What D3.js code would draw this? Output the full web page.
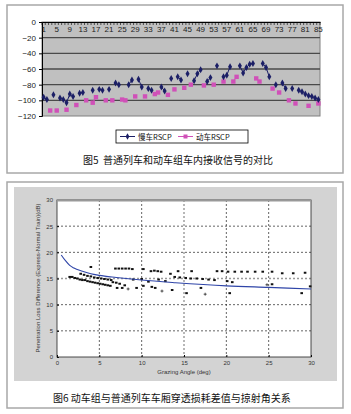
<!DOCTYPE html>
<html>
<head>
<meta charset="utf-8">
<script src="https://cdn.jsdelivr.net/npm/d3@7"></script>
<style>
  html, body { margin: 0; padding: 0; background: #fff; }
  svg { display: block; }
  text { font-family: Arial, "Liberation Sans", sans-serif; }
  .cjk { font-family: "Noto Sans CJK SC", sans-serif; }
</style>
</head>
<body>
<svg id="chart" width="351" height="414"></svg>
<script>
// ---- Fig.5 data: received signal (RSCP) per sample, null = no reading
const sampleIds = d3.range(1, 86);
const sampleTicks = [1, 5, 9, 13, 17, 21, 25, 29, 33, 37, 41, 45, 49, 53, 57, 61, 65, 69, 73, 77, 81, 85];
const rscpTicks = [0, -20, -40, -60, -80, -100, -120];
const seriesNames = ['慢车RSCP', '动车RSCP'];

const slowRscp = [
  -96, -99, null, -93, null, -97, -99, -103, -92, -95,
  null, -91, -90, null, null, -87, null, -86, -87, null,
  -86, null, -78, -80, null, null, -80, -74, null, -73,
  -83, null, -85, -87, null, null, -83, -88, null, -72,
  null, -70, -74, null, -66, null, -75, -66, -61, null,
  -76, -71, null, -56, null, -70, -68, -57, null, null,
  -56, -65, -58, -54, -53, null, null, -53, -58, -70,
  null, -80, null, -78, -85, null, -85, null, -87, -89,
  -92, -94, -95, -97, -99
];

const fastRscp = [
  null, null, -113, null, -113, null, null, -112, null, null,
  -106, null, null, -100, null, -103, -96, null, null, -100,
  null, -100, null, null, -99, -100, null, null, -95, null,
  null, -95, null, null, -92, -90, null, null, -93, null,
  -86, null, null, -84, null, -80, null, null, null, -81,
  null, null, -80, null, null, -76, null, null, -76, -70,
  null, null, null, null, null, -72, -76, null, null, null,
  -85, null, -90, null, null, -100, null, -104, null, null,
  null, -107, null, null, -104
];

// ---- Fig.6 data: penetration loss difference vs grazing angle
const angleTicks = [0, 5, 10, 15, 20, 25, 30];
const diffTicks = [0, 5, 10, 15, 20, 25, 30];

const pointAngle = [
  1.5, 1.8, 2.1, 2.4, 2.7, 3.0, 3.3, 3.6, 3.9, 4.2, 4.5, 4.8, 5.1, 5.4, 5.7, 6.0, 6.3,
  2.8, 3.2, 3.6, 4.0, 4.4, 4.8, 5.2, 5.6, 6.0, 6.4,
  4.0, 6.9, 7.3, 7.7, 8.1, 8.5, 8.9, 10.2, 11.1, 11.5, 11.9, 12.3, 13.4, 14.3, 15.9,
  18.9, 19.5, 20.2, 21.0, 21.8, 22.5, 23.4, 24.3, 25.4, 26.6, 27.9, 29.3,
  6.6, 7.0, 7.4, 8.0, 9.0, 10.0, 10.8, 12.0, 12.8,
  13.9, 14.5, 15.2, 15.8, 16.5, 17.2, 17.9, 18.6,
  7.1, 7.7, 9.4, 10.2, 11.2, 11.6, 13.6, 15.3, 17.0, 20.1, 20.7, 20.4, 25.4, 28.9, 29.9
];
const pointDiff = [
  15.3, 15.3, 15.1, 15.0, 14.8, 14.7, 14.7, 14.5, 14.4, 14.3, 14.2, 14.1, 14.0, 13.9, 13.8, 13.7, 13.6,
  15.9, 15.7, 15.5, 15.4, 15.2, 15.1, 15.0, 14.9, 14.8, 14.7,
  17.2, 16.9, 16.9, 16.9, 16.9, 16.9, 16.8, 16.8, 16.4, 16.5, 16.4, 16.3, 15.9, 16.4, 16.4,
  16.4, 16.4, 16.3, 16.3, 16.3, 16.3, 16.3, 16.3, 16.3, 16.0, 16.0, 16.1,
  14.3, 14.2, 14.0, 13.7, 14.8, 14.9, 14.4, 14.8, 14.5,
  15.3, 15.2, 15.1, 15.0, 15.0, 14.9, 14.8, 14.7,
  13.2, 13.2, 13.2, 13.6, 13.4, 13.2, 12.8, 12.2, 13.2, 14.5, 14.3, 12.2, 13.9, 12.2, 13.5
];
const plusAngle = [8.4, 12.4, 17.5, 24.8];
const plusDiff = [13.0, 12.6, 12.0, 13.8];

const fitAngle = [0.5, 1, 1.5, 2, 3, 4, 5, 7, 10, 14, 20, 25, 30];
const fitDiff = [19.5, 18.4, 17.5, 17.0, 16.4, 15.9, 15.6, 15.2, 14.7, 14.2, 13.6, 13.3, 13.0];

const svg = d3.select('#chart');

// ================= Fig.5 =================
svg.append('rect')
  .attr('x', 7).attr('y', 5).attr('width', 336).attr('height', 168)
  .attr('fill', '#fff').attr('stroke', '#a8a8a8').attr('stroke-width', 1.5);

let x5 = d3.scaleBand().domain(sampleIds).range([42, 320]);
let y5 = d3.scaleLinear().domain([-120, 0]).range([116, 22]);
let cx = d => x5(d) + x5.bandwidth() / 2;

let fig5 = svg.append('g');

fig5.append('rect')
  .attr('x', 42).attr('y', 22).attr('width', 278).attr('height', 94)
  .attr('fill', '#c0c0c0').attr('stroke', '#808080');

fig5.append('g')
  .selectAll('line').data(rscpTicks.filter(d => d < 0 && d > -120)).enter().append('line')
  .attr('x1', 42).attr('x2', 320)
  .attr('y1', d => y5(d)).attr('y2', d => y5(d))
  .attr('stroke', '#4a4a4a').attr('stroke-width', 1.4);

let yAxis5 = fig5.append('g')
  .attr('transform', 'translate(42,0)')
  .call(d3.axisLeft(y5).tickValues(rscpTicks).tickSize(3).tickPadding(3));
yAxis5.selectAll('text').attr('font-size', 8).attr('fill', '#222');
yAxis5.select('.domain').attr('stroke', '#000');

let xAxis5 = fig5.append('g')
  .attr('transform', `translate(0,${y5(0)})`)
  .call(d3.axisBottom(x5).tickValues(sampleTicks).tickSize(0).tickPadding(4));
xAxis5.selectAll('text').attr('font-size', 8).attr('fill', '#222');
xAxis5.select('.domain').attr('stroke', '#000').attr('stroke-width', 1.2);

fig5.append('g')
  .selectAll('line').data(sampleIds.concat([86])).enter().append('line')
  .attr('x1', d => d === 86 ? 320 : x5(d)).attr('x2', d => d === 86 ? 320 : x5(d))
  .attr('y1', y5(0)).attr('y2', y5(0) + 3)
  .attr('stroke', '#000').attr('stroke-width', 0.6);

let line5 = d3.line()
  .defined(d => d.v !== null)
  .x(d => cx(d.id))
  .y(d => y5(d.v));

let slowPts = sampleIds.map((id, i) => ({ id: id, v: slowRscp[i] }));
let fastPts = sampleIds.map((id, i) => ({ id: id, v: fastRscp[i] }));

fig5.append('path').datum(fastPts)
  .attr('d', line5).attr('fill', 'none')
  .attr('stroke', '#d050b8').attr('stroke-width', 1);
fig5.append('g').attr('fill', '#d050b8')
  .selectAll('rect').data(fastPts.filter(d => d.v !== null)).enter().append('rect')
  .attr('x', d => cx(d.id) - 2.2).attr('y', d => y5(d.v) - 2.2)
  .attr('width', 4.4).attr('height', 4.4);

fig5.append('path').datum(slowPts)
  .attr('d', line5).attr('fill', 'none')
  .attr('stroke', '#1c1f66').attr('stroke-width', 1);
fig5.append('g').attr('fill', '#1c1f66')
  .selectAll('path').data(slowPts.filter(d => d.v !== null)).enter().append('path')
  .attr('d', d3.symbol(d3.symbolDiamond, 14))
  .attr('transform', d => `translate(${cx(d.id)},${y5(d.v)})`);

// legend
let leg = fig5.append('g');
leg.append('rect')
  .attr('x', 116).attr('y', 130).attr('width', 132).attr('height', 13)
  .attr('fill', '#fff').attr('stroke', '#000').attr('stroke-width', 0.8);
let legItems = [
  { name: seriesNames[0], x: 120, color: '#1c1f66', shape: 'diamond' },
  { name: seriesNames[1], x: 178, color: '#d050b8', shape: 'square' }
];
legItems.forEach(it => {
  leg.append('line')
    .attr('x1', it.x).attr('x2', it.x + 15).attr('y1', 136.5).attr('y2', 136.5)
    .attr('stroke', it.color).attr('stroke-width', 1);
  if (it.shape === 'diamond') {
    leg.append('path').attr('d', d3.symbol(d3.symbolDiamond, 12))
      .attr('transform', `translate(${it.x + 7.5},136.5)`).attr('fill', it.color);
  } else {
    leg.append('rect').attr('x', it.x + 5.5).attr('y', 134.5)
      .attr('width', 4).attr('height', 4).attr('fill', it.color);
  }
  leg.append('text')
    .attr('x', it.x + 18).attr('y', 139.5)
    .attr('font-size', 7.5).attr('fill', '#111')
    .attr('class', 'cjk')
    .text(it.name);
});

fig5.append('text')
  .attr('class', 'cjk')
  .attr('x', 83).attr('y', 164)
  .attr('font-size', 10).attr('fill', '#111')
  .attr('xml:space', 'preserve')
  .text('图5  普通列车和动车组车内接收信号的对比');

// ================= Fig.6 =================
svg.append('rect')
  .attr('x', 7).attr('y', 182).attr('width', 336).attr('height', 226)
  .attr('fill', '#fff').attr('stroke', '#a8a8a8').attr('stroke-width', 1.5);

let fig6 = svg.append('g');

fig6.append('rect')
  .attr('x', 14).attr('y', 187).attr('width', 323).attr('height', 194)
  .attr('fill', '#d3d3d3');

let x6 = d3.scaleLinear().domain([0, 30]).range([57, 311]);
let y6 = d3.scaleLinear().domain([0, 30]).range([357, 200]);

fig6.append('rect')
  .attr('x', 57).attr('y', 200).attr('width', 254).attr('height', 157)
  .attr('fill', '#fff');

// dashed grid
fig6.append('g')
  .selectAll('line').data(angleTicks.slice(1, -1)).enter().append('line')
  .attr('x1', d => x6(d)).attr('x2', d => x6(d))
  .attr('y1', 200).attr('y2', 357)
  .attr('stroke', d => d === 15 ? '#999' : '#222')
  .attr('stroke-width', d => d === 15 ? 1.4 : 0.7)
  .attr('stroke-dasharray', '2,2');
fig6.append('g')
  .selectAll('line').data(diffTicks.slice(1, -1)).enter().append('line')
  .attr('x1', 57).attr('x2', 311)
  .attr('y1', d => y6(d)).attr('y2', d => y6(d))
  .attr('stroke', d => d === 15 ? '#999' : '#222')
  .attr('stroke-width', d => d === 15 ? 1.4 : 0.7)
  .attr('stroke-dasharray', '2,2');

let xAxis6 = fig6.append('g')
  .attr('transform', 'translate(0,357)')
  .call(d3.axisBottom(x6).tickValues(angleTicks).tickSize(-2).tickPadding(4));
let yAxis6 = fig6.append('g')
  .attr('transform', 'translate(57,0)')
  .call(d3.axisLeft(y6).tickValues(diffTicks).tickSize(-2).tickPadding(4));
[xAxis6, yAxis6].forEach(a => {
  a.selectAll('text').attr('font-size', 6).attr('fill', '#333');
  a.select('.domain').attr('stroke', 'none');
});

fig6.append('rect')
  .attr('x', 57).attr('y', 200).attr('width', 254).attr('height', 157)
  .attr('fill', 'none').attr('stroke', '#222').attr('stroke-width', 0.8);
fig6.append('line')
  .attr('x1', 57).attr('x2', 311).attr('y1', 200.5).attr('y2', 200.5)
  .attr('stroke', '#999').attr('stroke-width', 2);

// scatter points
let pts6 = pointAngle.map((a, i) => ({ a: a, d: pointDiff[i] }));
fig6.append('g').attr('fill', '#111')
  .selectAll('rect').data(pts6).enter().append('rect')
  .attr('x', d => x6(d.a) - 1.3).attr('y', d => y6(d.d) - 1)
  .attr('width', 2.6).attr('height', 2);

let plus6 = plusAngle.map((a, i) => ({ a: a, d: plusDiff[i] }));
fig6.append('g').attr('stroke', '#111').attr('stroke-width', 0.7)
  .selectAll('path').data(plus6).enter().append('path')
  .attr('d', d => `M${x6(d.a) - 1.5},${y6(d.d)}h3M${x6(d.a)},${y6(d.d) - 1.5}v3`);

// fitted curve
let fit6 = fitAngle.map((a, i) => ({ a: a, d: fitDiff[i] }));
fig6.append('path').datum(fit6)
  .attr('d', d3.line().curve(d3.curveMonotoneX).x(d => x6(d.a)).y(d => y6(d.d)))
  .attr('fill', 'none').attr('stroke', '#2f45a8').attr('stroke-width', 1.1);

fig6.append('text')
  .attr('x', 184).attr('y', 374)
  .attr('text-anchor', 'middle').attr('font-size', 6).attr('fill', '#333')
  .text('Grazing Angle (deg)');

fig6.append('text')
  .attr('transform', 'translate(40,278) rotate(-90)')
  .attr('text-anchor', 'middle').attr('font-size', 6).attr('fill', '#333')
  .text('Penetration Loss Difference (Express-Normal Train)(dB)');

fig6.append('text')
  .attr('class', 'cjk')
  .attr('x', 53).attr('y', 402)
  .attr('font-size', 10).attr('fill', '#111')
  .text('图6 动车组与普通列车车厢穿透损耗差值与掠射角关系');
</script>
</body>
</html>
